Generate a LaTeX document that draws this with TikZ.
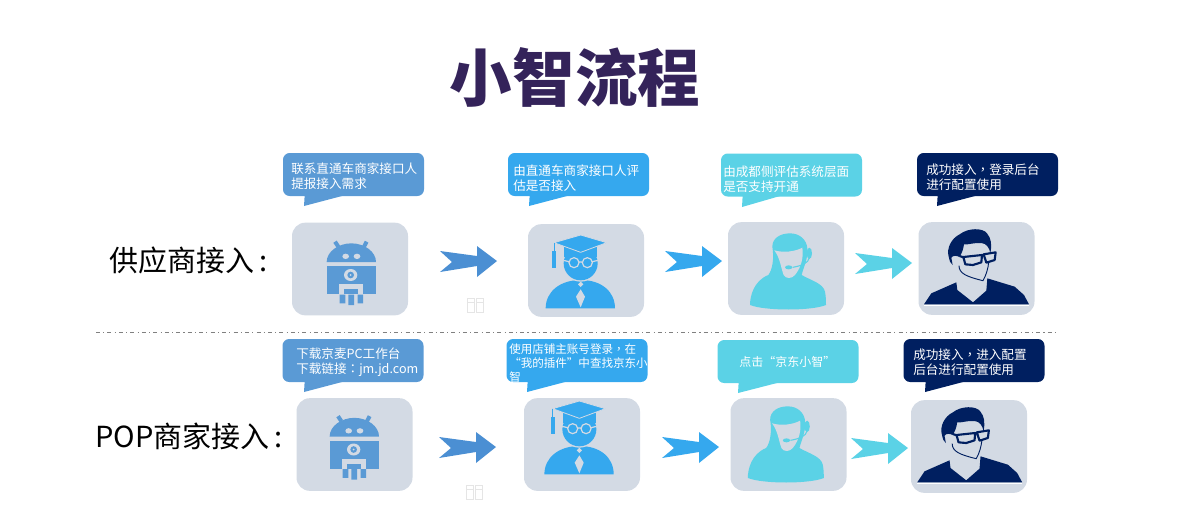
\documentclass[tikz,border=0pt]{standalone}
\usepackage{fontspec}
\setmainfont{Noto Sans CJK SC}
\newfontfamily\titlefont{Noto Sans CJK SC Black}
\newfontfamily\cjktc{Noto Sans CJK TC}
\definecolor{droidblue}{HTML}{5A9AD5}
\definecolor{arrowblue}{HTML}{4B8FD3}
\definecolor{gradblue}{HTML}{35A8EE}
\definecolor{agentcyan}{HTML}{5BD2E6}
\definecolor{mannavy}{HTML}{001F60}
\definecolor{boxgray}{HTML}{D3DAE4}
\definecolor{titlepurple}{HTML}{34235A}
\tikzset{
    iconbox/.style={fill=boxgray, rounded corners=10pt, minimum width=87pt, minimum height=69.5pt, inner sep=0pt},
    bubble/.style={rounded corners=5pt, minimum width=105.75pt, minimum height=32.25pt, inner sep=0pt},
    bubtext/.style={anchor=west, align=left, text=white, inner sep=0pt, font=\fontsize{9.45pt}{11.25pt}\selectfont},
    rowlabel/.style={anchor=west, inner sep=0pt, font=\fontsize{21.75pt}{26pt}\selectfont},
    pics/flowarrow/.style={code={
        \fill[#1] (-57,-10) -- (-45,1) -- (-57,11) -- (-20,5) -- (-20,16) -- (0,0) -- (-20,-15) -- (-20,-5) -- cycle;
    }},
    pics/markicon/.style={code={
        \draw[black!10, line width=.6pt] (0,0) rectangle (7,14) (0,4) -- (7,4);
        \draw[black!10, line width=.6pt] (9,0) rectangle (16,14) (9,4) -- (16,4);
    }},
    pics/droidicon/.style={code={
        \begin{scope}[shift={(-25,-34)},scale=.3333]
            \draw[droidblue, line width=3pt] (40,35) -- (30,20) (117,35) -- (125,20);
            \fill[droidblue] (5,81) .. controls (5,50) and (40,25) .. (79,25) .. controls (118,25) and (153,50) .. (153,81) -- cycle;
            \fill[boxgray] (62,64) ellipse [x radius=10, y radius=8] (96,64) ellipse [x radius=10, y radius=8];
            \fill[droidblue] (5,93) rectangle (153,177);
            \fill[boxgray] (77,120) ellipse [x radius=20, y radius=18];
            \fill[droidblue] (77,120) circle (10);
            \fill[boxgray] (77,120) circle (3);
            \fill[boxgray] (42,148) rectangle (114,177);
            \fill[droidblue] (58,162) rectangle (98,177);
            \fill[droidblue] (44,179) rectangle (61,205) (70,179) rectangle (87,210) (98,179) rectangle (114,205);
        \end{scope}
    }},
    pics/gradicon/.style={code={
        \begin{scope}[shift={(-46,-40.5)},scale=.3333]
            \fill[gradblue] (17,235) .. controls (17,185) and (60,150) .. (122,150) .. controls (185,150) and (225,185) .. (225,235) -- cycle;
            \fill[boxgray] (122,100) circle (55);
            \fill[gradblue] (122,100) circle (51);
            \fill[gradblue] (72,48) rectangle (172,82);
            \draw[boxgray, line width=.6pt, fill=gradblue, line join=round] (42,38) -- (122,15) -- (200,38) -- (122,67) -- cycle;
            \draw[gradblue, line width=.7pt] (42,38) -- (42,64);
            \fill[gradblue] (37,62) rectangle (48,113);
            \draw[boxgray, line width=.9pt] (102,98) circle (15) (142,98) circle (15) (117,96) -- (127,96) (87,95) -- (70,91) (157,95) -- (174,91);
            \fill[boxgray] (122,155) -- (130,163) -- (122,171) -- (114,163) -- cycle;
            \fill[boxgray] (122,178) -- (135,200) -- (122,232) -- (108,200) -- cycle;
        \end{scope}
    }},
    pics/agenticon/.style={code={
        \begin{scope}[shift={(-41,-43.5)},scale=.3333]
            \fill[agentcyan] (82,65) .. controls (82,40) and (105,25) .. (135,25) .. controls (165,25) and (185,45) .. (187,70)
                .. controls (190,100) and (176,125) .. (170,150) .. controls (195,165) and (235,175) .. (240,200)
                .. controls (243,215) and (243,230) .. (243,240) .. controls (200,258) and (60,258) .. (15,240)
                .. controls (15,215) and (25,168) .. (70,150) .. controls (82,135) and (88,100) .. (82,65) -- cycle;
            \fill[boxgray] (88,76) .. controls (115,84) and (150,80) .. (172,68) .. controls (176,95) and (170,125) .. (150,150)
                .. controls (140,162) and (122,162) .. (116,150) .. controls (108,130) and (106,100) .. (88,76) -- cycle;
            \fill[agentcyan] (193,85) ellipse [x radius=8, y radius=17];
            \draw[agentcyan, line width=.8pt] (193,98) .. controls (190,115) and (170,122) .. (143,127);
            \fill[agentcyan] (131,127) ellipse [x radius=11, y radius=6];
        \end{scope}
    }},
    pics/manicon/.style={code={
        \begin{scope}[shift={(-58.5,-43.5)},scale=.3333]
            \fill[mannavy] (18,238) -- (40,205) -- (115,172) -- (118,195) -- (165,232) -- (205,197) -- (208,160) -- (290,185) -- (318,210) -- (333,238) -- cycle;
            \draw[white, line width=.4pt] (18,241) -- (333,241);
            \fill[mannavy] (92,95) .. controls (85,70) and (100,40) .. (125,28) .. controls (150,8) and (195,8) .. (207,25)
                .. controls (220,40) and (222,60) .. (217,84) .. controls (214,68) and (205,55) .. (190,54)
                .. controls (170,52) and (150,60) .. (138,58) .. controls (136,72) and (132,85) .. (124,96)
                .. controls (118,92) and (105,90) .. (100,98) -- (104,120) -- (96,110) -- cycle;
            \draw[mannavy, line width=1.6pt, line join=round] (136,96) -- (192,90) -- (190,112) -- (165,120) -- (142,118) -- cycle (197,88) -- (233,82) -- (230,105) -- (205,113) -- cycle (192,92) -- (197,90) (125,93) -- (136,97);
            \draw[mannavy, line width=.7pt] (123,122) .. controls (123,145) and (145,155) .. (195,167) .. controls (205,150) and (210,130) .. (212,113);
        \end{scope}
    }}
}
\begin{document}
\begin{tikzpicture}[x=.75pt,y=-.75pt]
    \useasboundingbox (0,0) rectangle (1202,526);
    \node[font=\titlefont\fontsize{46.9pt}{50pt}\selectfont, text=titlepurple, inner sep=0pt] (title) at (575,77.5) {小智流程};
    \node[rowlabel] (labelSupplier) at (109,260) {供应商接入\,:};
    \node[rowlabel] (labelPop) at (95,436) {POP商家接入\,:};
    \draw[gray, line width=.75pt, dash pattern=on 3pt off 2.4pt on .8pt off 2.4pt] (96,332.3) -- (1058,332.3);
    % first row
    \node[iconbox] (boxA) at (350,269) {};
    \node[iconbox] (boxB) at (586,270.5) {};
    \node[iconbox] (boxC) at (786,268.5) {};
    \node[iconbox] (boxD) at (976.5,268.5) {};
    \pic at (boxA) {droidicon};
    \pic at (boxB) {gradicon};
    \pic at (boxC) {agenticon};
    \pic at (boxD) {manicon};
    \pic at (497,261) {flowarrow=arrowblue};
    \pic at (722,261) {flowarrow=gradblue};
    \pic at (912,263) {flowarrow=agentcyan};
    \pic at (467,298) {markicon};
    \fill[droidblue] (305,190) -- (304,206) -- (342,196) -- cycle;
    \fill[gradblue] (530,190) -- (529,206) -- (567,196) -- cycle;
    \fill[agentcyan] (743,190) -- (742,207) -- (780,196) -- cycle;
    \fill[mannavy] (938,190) -- (937,206) -- (975,196) -- cycle;
    \node[bubble, fill=droidblue] (bubA) at (353.5,174.5) {};
    \node[bubble, fill=gradblue] (bubB) at (578.5,174.5) {};
    \node[bubble, fill=agentcyan] (bubC) at (791.5,175) {};
    \node[bubble, fill=mannavy] (bubD) at (987.5,174.5) {};
    \node[bubtext] (textA) at (291,176.5) {联系直通车商家接口人\\提报接入需求};
    \node[bubtext] (textB) at (513,178.5) {由直通车商家接口人评\\估是否接入};
    \node[bubtext] (textC) at (723,179.5) {由成都侧评估系统层面\\是否支持开通};
    \node[bubtext] (textD) at (926,177) {成功接入{\cjktc ，}登录后台\\进行配置使用};
    % second row
    \node[iconbox] (boxE) at (354.5,444.5) {};
    \node[iconbox] (boxF) at (582,444.5) {};
    \node[iconbox] (boxG) at (788.5,444.5) {};
    \node[iconbox] (boxH) at (969,446.5) {};
    \pic at ([shift={(-1.5,-1)}]boxE) {droidicon};
    \pic at ([shift={(2.7,-8)}]boxF) {gradicon};
    \pic at ([shift={(-4.7,-3)}]boxG) {agenticon};
    \pic at ([shift={(.7,0)}]boxH) {manicon};
    \pic at (496,447) {flowarrow=arrowblue};
    \pic at (719,447) {flowarrow=gradblue};
    \pic at (908,448) {flowarrow=agentcyan};
    \pic at (466,485) {markicon};
    \fill[droidblue] (305,376) -- (304,392) -- (342,382) -- cycle;
    \fill[gradblue] (528,376) -- (527,392) -- (565,382) -- cycle;
    \fill[agentcyan] (739,377) -- (738,393) -- (777,383) -- cycle;
    \fill[mannavy] (926,376) -- (925,392) -- (963,382) -- cycle;
    \node[bubble, fill=droidblue] (bubE) at (353,360.5) {};
    \node[bubble, fill=gradblue] (bubF) at (577,360.5) {};
    \node[bubble, fill=agentcyan] (bubG) at (788,361.5) {};
    \node[bubble, fill=mannavy] (bubH) at (974,360.5) {};
    \node[bubtext] (textE) at (296,362) {下载京麦PC工作台\\下载链接{\cjktc ：}jm.jd.com};
    \node[bubtext, font=\fontsize{8.65pt}{10.5pt}\selectfont] (textF) at (509,363) {使用店铺主账号登录{\cjktc ，}在\\“我的插件”中查找京东小\\智};
    \node[bubtext, font=\fontsize{9pt}{11pt}\selectfont] (textG) at (739,362) {点击“京东小智”};
    \node[bubtext] (textH) at (913,362.5) {成功接入{\cjktc ，}进入配置\\后台进行配置使用};
\end{tikzpicture}
\end{document}
